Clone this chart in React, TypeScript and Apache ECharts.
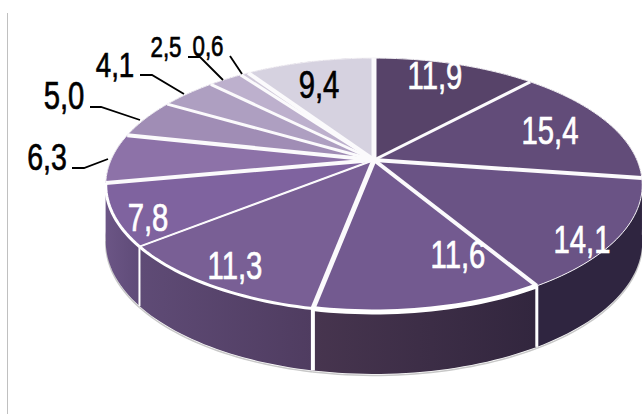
import React, { useEffect, useRef } from "react";
import * as echarts from "echarts";

// Slice shares, clockwise from 12 o'clock
const shares = [11.9, 15.4, 14.1, 11.6, 11.3, 7.8, 6.3, 5.0, 4.1, 2.5, 0.6, 9.4];

// Styles, one per slice
const topColors = ["#574369", "#624c79", "#6a5385", "#735a90", "#795f95", "#7f639f", "#8d72a8", "#a08db5", "#ae9fc1", "#bdb0cd", "#cfc8d9", "#d6d2e0"];
const wallColors: [string, string][] = [
  ["#2f2540", "#2f2540"], ["#2f2540", "#2f2540"], ["#2f2540", "#2f2540"],
  ["#47354f", "#32263e"], ["#5f4b76", "#4f3c60"], ["#6b5585", "#5f4b78"],
  ["#6b5585", "#6b5585"], ["#6b5585", "#6b5585"], ["#6b5585", "#6b5585"],
  ["#6b5585", "#6b5585"], ["#6b5585", "#6b5585"], ["#6b5585", "#6b5585"],
];
const separatorWidths = [3, 4, 4, 5, 2, 4, 4, 3, 3, 3, 4, 5];
const rimWidths = [0, 0, 0, 5, 3, 3, 0, 0, 0, 0, 0, 0];
const wallSeparatorWidths = [0, 0, 3, 4, 2, 0, 0, 0, 0, 0, 0, 0];

// Label placement, one per slice
const labelCenters: [number, number][] = [[435, 76], [550, 131], [582, 240], [458, 255], [235, 266], [148, 218], [47, 157], [64, 96], [115, 65], [166, 47], [208, 46], [319, 85]];
const labelSizes = [38, 38, 38, 38, 38, 38, 37, 38, 36, 29, 29, 38];
const labelColors = ["#fff", "#fff", "#fff", "#fff", "#fff", "#fff", "#000", "#000", "#000", "#000", "#000", "#000"];
const leaders: (number[][] | null)[] = [null, null, null, null, null, null,
  [[72, 168], [84, 168], [108, 159]],
  [[90, 107], [101, 107], [140, 120]],
  [[140, 75], [152, 75], [184, 94]],
  [[188, 57], [200, 57], [223, 80]],
  [[230, 56], [242, 74]],
  null];

// Perspective projection of the disc
const APEX_X = 374, APEX_Y = 160, RX = 263, RY = 122, K = 0.197;
const project = (deg: number) => {
  const t = (deg * Math.PI) / 180;
  const u = -Math.cos(t);
  const d = 1 - K * u;
  return [APEX_X + (RX * Math.sin(t)) / d, APEX_Y + (RY * u) / d, u];
};
const wallHeight = (u: number) => 55 + 7 * u;
const total = shares.reduce((a, b) => a + b, 0);
const startDeg = (i: number) => (shares.slice(0, i).reduce((a, b) => a + b, 0) / total) * 360;
const rim = (a: number, b: number) => {
  const n = Math.max(2, Math.ceil(Math.abs(b - a) / 1.5));
  const out: number[][] = [];
  for (let i = 0; i <= n; i++) {
    const p = project(a + ((b - a) * i) / n);
    out.push([p[0], p[1], p[2]]);
  }
  return out;
};
const range = (api: any, i: number) => {
  const a = startDeg(i);
  return [a, a + (api.value(0) / total) * 360];
};
const lower = (pts: number[][], extra = 0) => pts.map((p) => [p[0], p[1] + wallHeight(p[2]) + extra]);
const xy = (pts: number[][]) => pts.map((p) => [p[0], p[1]]);

const renderWallEdge = (params: any, api: any) => {
  const [a, b] = range(api, params.dataIndex);
  return { type: "polyline", shape: { points: lower(rim(a, b), 1.5) }, style: { fill: "none", stroke: "#c8c8c8", lineWidth: 1.5 } };
};

const renderWall = (params: any, api: any) => {
  const i = params.dataIndex;
  const [a, b] = range(api, i);
  const pts = rim(a, b);
  return {
    type: "polygon",
    shape: { points: [...xy(pts), ...lower(pts).reverse()] },
    style: {
      fill: {
        type: "linear", x: 0, y: 0, x2: 1, y2: 0,
        colorStops: [{ offset: 0, color: wallColors[i][0] }, { offset: 1, color: wallColors[i][1] }],
      },
    },
  };
};

const renderTop = (params: any, api: any) => {
  const i = params.dataIndex;
  const [a, b] = range(api, i);
  return {
    type: "polygon",
    shape: { points: [[APEX_X, APEX_Y], ...xy(rim(a, b))] },
    style: { fill: topColors[i], stroke: "#f3f1f5", lineWidth: 1 },
  };
};

const renderOverlay = (params: any, api: any) => {
  const i = params.dataIndex;
  const [a, b] = range(api, i);
  const end = project(b);
  const children: any[] = [
    { type: "line", shape: { x1: APEX_X, y1: APEX_Y, x2: end[0], y2: end[1] }, style: { stroke: "#fbfafc", lineWidth: separatorWidths[i] } },
  ];
  if (rimWidths[i]) {
    children.push({ type: "polyline", shape: { points: xy(rim(a, b)) }, style: { fill: "none", stroke: "#fff", lineWidth: rimWidths[i] } });
  }
  if (wallSeparatorWidths[i]) {
    children.push({ type: "line", shape: { x1: end[0], y1: end[1], x2: end[0], y2: end[1] + wallHeight(end[2]) }, style: { stroke: "#fff", lineWidth: wallSeparatorWidths[i] } });
  }
  return { type: "group", children };
};

const renderLabel = (params: any, api: any) => {
  const i = params.dataIndex;
  const children: any[] = [
    {
      type: "text",
      x: labelCenters[i][0],
      y: labelCenters[i][1],
      scaleX: 0.77,
      style: {
        text: api.value(0).toFixed(1).replace(".", ","),
        fill: labelColors[i],
        stroke: labelColors[i],
        lineWidth: 0.7,
        font: `${labelSizes[i]}px "Liberation Sans", sans-serif`,
        align: "center",
        verticalAlign: "middle",
      },
    },
  ];
  if (leaders[i]) {
    children.push({ type: "polyline", shape: { points: leaders[i] }, style: { fill: "none", stroke: "#000", lineWidth: 1.8 } });
  }
  return { type: "group", children };
};

const customSeries = (renderItem: any, z: number) => ({
  type: "custom",
  coordinateSystem: "none",
  silent: true,
  z,
  data: shares,
  renderItem,
});

export default function App() {
  const ref = useRef<HTMLDivElement>(null);
  useEffect(() => {
    const chart = echarts.init(ref.current!, undefined, { renderer: "svg" });
    chart.setOption({
      animation: false,
      backgroundColor: "#fff",
      graphic: [
        { type: "line", shape: { x1: 7.5, y1: 13, x2: 7.5, y2: 414 }, style: { stroke: "#c0c0c0", lineWidth: 1 } },
      ],
      series: [
        customSeries(renderWallEdge, 1),
        customSeries(renderWall, 2),
        customSeries(renderTop, 3),
        customSeries(renderOverlay, 4),
        customSeries(renderLabel, 5),
      ],
    });
    return () => chart.dispose();
  }, []);
  return <div ref={ref} style={{ position: "absolute", left: 0, top: 0, width: 642, height: 414 }} />;
}
